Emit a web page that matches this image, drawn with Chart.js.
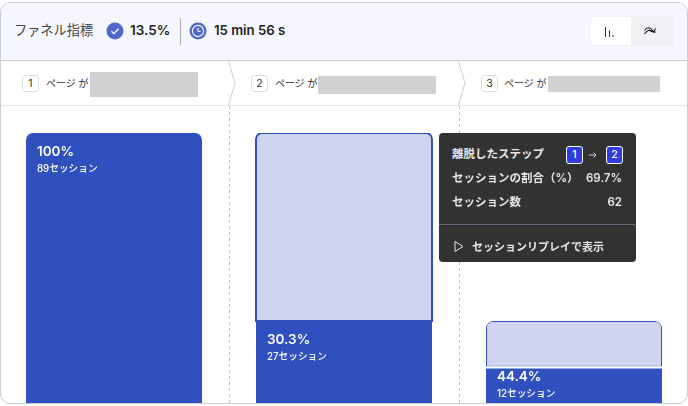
<!DOCTYPE html>
<html lang="ja">
<head>
<meta charset="utf-8">
<title>ファネル指標</title>
<script src="https://cdn.jsdelivr.net/npm/chart.js@4"></script>
<style>
  html, body { margin: 0; padding: 0; background: #fff; overflow: hidden; }
  body { width: 688px; height: 406px; position: relative; font-family: Inter, "Noto Sans CJK JP", sans-serif; }
  .abs { position: absolute; white-space: nowrap; line-height: 1; }
  #card { position: absolute; left: 0; top: 2px; width: 686px; height: 400px; border: 1px solid #c9cdd4; border-radius: 10px; overflow: hidden; background: #fff; }
  /* children of #card are placed in page coords, so shift the inner box back */
  #inner { position: absolute; left: -1px; top: -3px; width: 688px; height: 406px; }
  #head { position: absolute; left: 0; top: 0; width: 688px; height: 60px; background: #f5f6fe; border-bottom: 1px solid #c9cdd4; }
  #rowline { position: absolute; left: 0; top: 105px; width: 688px; height: 1px; background: #e8e9ec; }
  #chart { position: absolute; left: -1px; top: 106px; }
  .badge { position: absolute; width: 15px; height: 15px; border: 1px solid #dcdde0; border-radius: 3px; background: #fff; font-size: 10.5px; line-height: 15px; text-align: center; color: #333; }
  .mask { position: absolute; background: #d0d1d2; }
  .page { font-size: 10px; color: #333; }
  #tip { position: absolute; left: 439px; top: 133px; width: 197px; height: 129px; background: #323232; border-radius: 4px; color: #e6e6e6; font-size: 11.5px; font-weight: 600; }
  #tip .abs { line-height: 14px; }
  .tb { position: absolute; top: 13px; width: 15px; height: 16px; border: 1px solid #fff; border-radius: 3px; background: #2f3de0; color: #fff; font-size: 10.5px; line-height: 16px; text-align: center; font-weight: 500; }
</style>
</head>
<body>
<div id="card"><div id="inner">
  <div id="head"></div>
  <div class="abs" style="left:14px;top:24px;font-size:13.2px;color:#444">ファネル指標</div>
  <svg class="abs" style="left:106px;top:22px" width="18" height="18" viewBox="0 0 18 18"><circle cx="9" cy="9" r="8.5" fill="#4f68c9"/><path d="M5.5 9.3l2.4 2.3 4.6-4.8" fill="none" stroke="#fff" stroke-width="1.3"/></svg>
  <div class="abs" style="left:130px;top:24px;font-size:13.5px;font-weight:600;color:#222">13.5%</div>
  <div class="abs" style="left:180px;top:18px;width:1px;height:27px;background:#a9acb5"></div>
  <svg class="abs" style="left:189px;top:22px" width="18" height="18" viewBox="0 0 18 18"><circle cx="9" cy="9" r="8.5" fill="#4f68c9"/><circle cx="9" cy="9" r="5.6" fill="none" stroke="#fff" stroke-width="1.1"/><path d="M9 5.8V9.3h2.6" fill="none" stroke="#fff" stroke-width="1.1"/></svg>
  <div class="abs" style="left:214px;top:24px;font-size:13.2px;font-weight:600;color:#222">15 min 56 s</div>

  <div class="abs" style="left:591px;top:16px;width:83px;height:30px;background:#f0f1f4;border-radius:4px"></div>
  <div class="abs" style="left:591px;top:17px;width:40px;height:28px;background:#fff;border-radius:4px 0 0 4px"></div>
  <svg class="abs" style="left:603px;top:25px" width="14" height="14" viewBox="0 0 14 14"><path d="M2.5 2v10M6.500 5.500V12" stroke="#333" stroke-width="1" fill="none"/><path d="M10 10v2" stroke="#666" stroke-width="1.4" fill="none"/></svg>
  <svg class="abs" style="left:643px;top:24px" width="14" height="14" viewBox="0 0 14 14"><path d="M1.5 6.500C4 2.500 7.500 3.500 9 6s2.500 3 3.500 1.500M1.500 10C4 6.500 6 5.500 8 7s3 1 4.500-2.500" fill="none" stroke="#111" stroke-width="1.1"/></svg>

  <svg class="abs" style="left:0;top:61px" width="688" height="45"><path d="M228.500 0L235 22 228.500 44M458.500 0L465 22 458.500 44" fill="none" stroke="#c9cdd4" stroke-width="1"/></svg>
  <div id="rowline"></div>
  <div class="badge" style="left:22px;top:75px">1</div>
  <div class="abs page" style="left:46px;top:78px">ページ が</div>
  <div class="mask" style="left:90px;top:72px;width:108px;height:25px"></div>
  <div class="badge" style="left:251px;top:75px">2</div>
  <div class="abs page" style="left:275px;top:78px">ページ が</div>
  <div class="mask" style="left:318px;top:76px;width:118px;height:18px"></div>
  <div class="badge" style="left:481px;top:75px">3</div>
  <div class="abs page" style="left:504px;top:78px">ページ が</div>
  <div class="mask" style="left:548px;top:76px;width:112px;height:16px"></div>

  <canvas id="chart" width="690" height="297"></canvas>

  <div id="tip">
    <div class="abs" style="left:13px;top:14px">離脱したステップ</div>
    <div class="tb" style="left:127px">1</div>
    <svg class="abs" style="left:149px;top:17px" width="10" height="10" viewBox="0 0 10 10"><path d="M1 5h7M5.500 2.500L8 5 5.500 7.500" fill="none" stroke="#cfcfcf" stroke-width="1"/></svg>
    <div class="tb" style="left:167px">2</div>
    <div class="abs" style="left:13px;top:38px">セッションの割合（%）</div>
    <div class="abs" style="right:14px;top:38px">69.7%</div>
    <div class="abs" style="left:13px;top:62px">セッション数</div>
    <div class="abs" style="right:14px;top:62px">62</div>
    <div class="abs" style="left:0;top:91px;width:197px;height:1px;background:#66687a"></div>
    <svg class="abs" style="left:15px;top:107px" width="10" height="13" viewBox="0 0 10 13"><path d="M1 1.500L9 6.500 1 11.500Z" fill="none" stroke="#e6e6e6" stroke-width="1"/></svg>
    <div class="abs" style="left:33px;top:107px;font-size:11px">セッションリプレイで表示</div>
  </div>
</div></div>

<script>
const steps = ['1', '2', '3'];
const sessions = [89, 27, 12];
const dropped = [0, 62, 15];
const rates = ['100%', '30.3%', '44.4%'];
const sessionLabels = ['89セッション', '27セッション', '12セッション'];

const stepLines = {
  id: 'stepLines',
  beforeDatasetsDraw(chart) {
    const { ctx, scales: { x }, height } = chart;
    ctx.save();
    ctx.strokeStyle = '#c4c4c4';
    ctx.setLineDash([3, 3]);
    for (let i = 0; i < steps.length - 1; i++) {
      const px = Math.round((x.getPixelForValue(i) + x.getPixelForValue(i + 1)) / 2) + 0.5;
      ctx.beginPath();
      ctx.moveTo(px, 0);
      ctx.lineTo(px, height);
      ctx.stroke();
    }
    ctx.restore();
  },
};

const barLabels = {
  id: 'barLabels',
  afterDatasetsDraw(chart) {
    const { ctx } = chart;
    const bars = chart.getDatasetMeta(0).data;
    ctx.save();
    ctx.fillStyle = '#fff';
    ctx.textBaseline = 'middle';
    bars.forEach((bar, i) => {
      const left = bar.x - bar.width / 2 + 11;
      const y = bar.y + (bar.height < 50 ? 10 : 19);
      ctx.font = '600 13.5px Inter, "Noto Sans CJK JP"';
      ctx.fillText(rates[i], left, y);
      ctx.font = '500 9.7px Inter, "Noto Sans CJK JP"';
      ctx.fillText(sessionLabels[i], left, y + 17);
    });
    ctx.restore();
  },
};

new Chart(document.getElementById('chart'), {
  type: 'bar',
  data: {
    labels: steps,
    datasets: [
      {
        data: sessions,
        backgroundColor: '#3150bf',
        borderColor: '#fff',
        barThickness: 176,
        // white gap above the last bar only
        borderWidth: [0, 0, { top: 2, left: 0, right: 0, bottom: 0 }],
        borderRadius: [
          { topLeft: 7, topRight: 7, bottomLeft: 0, bottomRight: 0 },
          0,
          0,
        ],
        borderSkipped: false,
        inflateAmount: 0,
      },
      {
        data: dropped,
        backgroundColor: '#d0d4ee',
        borderColor: '#3150bf',
        barThickness: 176,
        borderWidth: [0, 2, 1],
        borderRadius: { topLeft: 7, topRight: 7, bottomLeft: 0, bottomRight: 0 },
        borderSkipped: false,
        inflateAmount: [0, 1, 0],
      },
    ],
  },
  options: {
    responsive: false,
    animation: false,
    layout: { padding: { top: 27 } },
    plugins: { legend: { display: false }, tooltip: { enabled: false } },
    scales: {
      x: { display: false, stacked: true },
      y: { display: false, stacked: true, min: 0, max: 89 },
    },
  },
  plugins: [stepLines, barLabels],
});
</script>
</body>
</html>
